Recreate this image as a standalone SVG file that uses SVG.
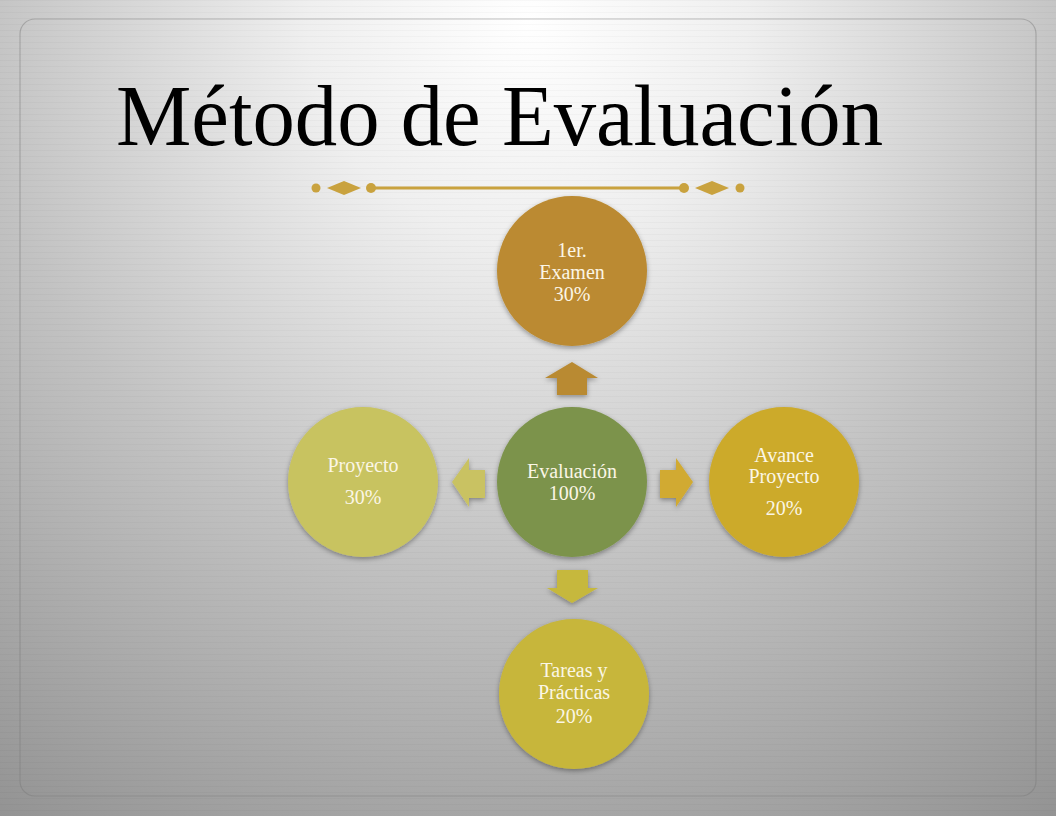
<svg xmlns="http://www.w3.org/2000/svg" width="1056" height="816" viewBox="0 0 1056 816">
<defs>
<radialGradient id="bg" cx="528" cy="20" r="1000" gradientUnits="userSpaceOnUse">
<stop offset="0" stop-color="#ffffff"/>
<stop offset="0.22" stop-color="#efefef"/>
<stop offset="0.55" stop-color="#c2c2c2"/>
<stop offset="1" stop-color="#8e8e8e"/>
</radialGradient>
<pattern id="lines" width="8" height="6" patternUnits="userSpaceOnUse">
<rect x="0" y="0" width="8" height="1" fill="#000" opacity="0.022"/>
</pattern>
<filter id="sh" x="-20%" y="-20%" width="140%" height="140%">
<feDropShadow dx="0" dy="2" stdDeviation="2.5" flood-color="#000" flood-opacity="0.35"/>
</filter>
</defs>
<style>
.lbl{font-family:"Liberation Serif","DejaVu Serif",serif;font-size:20px;fill:#fbf6e6;text-anchor:middle}
.title{font-family:"Liberation Serif","DejaVu Serif",serif;font-size:86px;fill:#000}
.gold{fill:#c9a23e}
</style>
<rect width="1056" height="816" fill="url(#bg)"/>
<rect width="1056" height="816" fill="url(#lines)"/>
<rect x="20" y="19" width="1016" height="777" rx="15" fill="none" stroke="#7a7a7a" stroke-opacity="0.45" stroke-width="1.2"/>
<g id="title">
<text class="title" x="116" y="145" textLength="767" lengthAdjust="spacingAndGlyphs">Método de Evaluación</text>
</g>
<g id="ornament">
<circle class="gold" cx="316" cy="188" r="4.5"/>
<polygon class="gold" points="327,188 344,181 361,188 344,195"/>
<circle class="gold" cx="371" cy="188" r="5"/>
<rect class="gold" x="371" y="186.5" width="313" height="3"/>
<circle class="gold" cx="684" cy="188" r="5"/>
<polygon class="gold" points="695,188 712,181 729,188 712,195"/>
<circle class="gold" cx="740" cy="188" r="4.5"/>
</g>
<g id="connectors">
<polygon fill="#b98a33" points="572,362 598,378 587,378 587,395 557,395 557,378 545,378" filter="url(#sh)"/>
<polygon fill="#d1aa32" points="660,470 676,470 676,458 693,482 676,507 676,498 660,498" filter="url(#sh)"/>
<polygon fill="#c9c262" points="485,470 469,470 469,458 452,482 469,507 469,498 485,498" filter="url(#sh)"/>
<polygon fill="#c6b83c" points="557,570 588,570 588,588 598,588 572,603 547,588 557,588" filter="url(#sh)"/>
</g>
<g id="node-examen">
<circle cx="572" cy="271" r="75" fill="#bb8a30" filter="url(#sh)"/>
<text class="lbl" x="572" y="257">1er.</text>
<text class="lbl" x="572" y="279">Examen</text>
<text class="lbl" x="572" y="301">30%</text>
</g>
<g id="node-evaluacion">
<circle cx="572" cy="482" r="75" fill="#7c934c" filter="url(#sh)"/>
<text class="lbl" x="572" y="478">Evaluación</text>
<text class="lbl" x="572" y="500">100%</text>
</g>
<g id="node-proyecto">
<circle cx="363" cy="482" r="75" fill="#c8c360" filter="url(#sh)"/>
<text class="lbl" x="363" y="472">Proyecto</text>
<text class="lbl" x="363" y="504">30%</text>
</g>
<g id="node-avance">
<circle cx="784" cy="482" r="75" fill="#ccaa2c" filter="url(#sh)"/>
<text class="lbl" x="784" y="462">Avance</text>
<text class="lbl" x="784" y="483">Proyecto</text>
<text class="lbl" x="784" y="515">20%</text>
</g>
<g id="node-tareas">
<circle cx="574" cy="694" r="75" fill="#c7b63a" filter="url(#sh)"/>
<text class="lbl" x="574" y="677">Tareas y</text>
<text class="lbl" x="574" y="699">Prácticas</text>
<text class="lbl" x="574" y="723">20%</text>
</g>
</svg>
